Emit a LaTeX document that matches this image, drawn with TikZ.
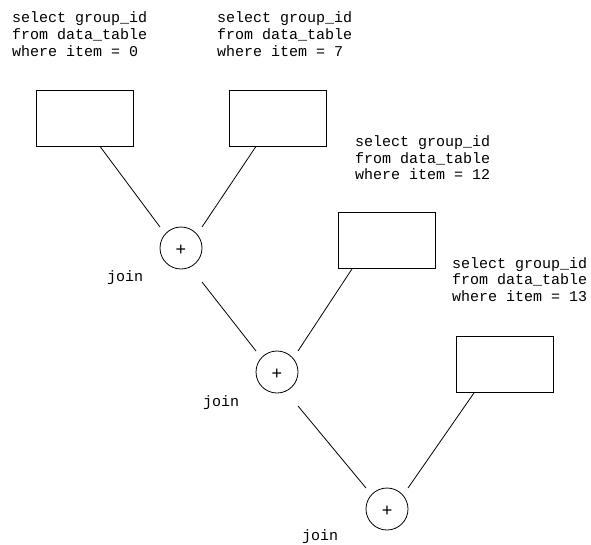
\documentclass[tikz,border=0pt]{standalone}
\usepackage{fontspec}
\setmonofont{Liberation Mono}
\newfontfamily\plusfont{Liberation Sans}
\begin{document}
\begin{tikzpicture}[x=1pt,y=-1pt,
  qbox/.style={draw,line width=0.8pt,minimum width=97pt,minimum height=56pt,inner sep=0pt},
  joincirc/.style={draw,line width=0.8pt,circle,minimum size=42pt,inner sep=0pt},
  sqltext/.style={anchor=base west,inner sep=0pt,align=left,font=\ttfamily\fontsize{15}{16.7}\selectfont},
  lbl/.style={anchor=base west,inner sep=0pt,font=\ttfamily\fontsize{15}{16.7}\selectfont},
  plussign/.style={font=\plusfont\fontsize{18}{18}\selectfont,inner sep=0pt},
  conn/.style={line width=0.8pt}]
\useasboundingbox (0,0) rectangle (591,544);
% boxes
\node[qbox] (b1) at (84.5,118) {};
\node[qbox] (b2) at (277.5,118) {};
\node[qbox] (b3) at (387,240.5) {};
\node[qbox] (b4) at (504.5,364.5) {};
% circles
\node[joincirc] (c1) at (181,248) {};
\node[joincirc] (c2) at (277,372) {};
\node[joincirc] (c3) at (387,509) {};
\node[plussign] (p1) at (181,250) {+};
\node[plussign] (p2) at (277,374) {+};
\node[plussign] (p3) at (387,511) {+};
% texts (base = last line)
\node[sqltext] (t1) at (12,56.1) {select group\_id\\from data\_table\\where item = 0};
\node[sqltext] (t2) at (217,56.1) {select group\_id\\from data\_table\\where item = 7};
\node[sqltext] (t3) at (355,179.9) {select group\_id\\from data\_table\\where item = 12};
\node[sqltext] (t4) at (452,301.4) {select group\_id\\from data\_table\\where item = 13};
\node[lbl] (j1) at (107,281) {join};
\node[lbl] (j2) at (203,406) {join};
\node[lbl] (j3) at (302,540) {join};
% connectors
\draw[conn] ([xshift=15.5pt]b1.south) -- ([shift={(-21,-21)}]c1.center);
\draw[conn] ([xshift=-21.5pt]b2.south) -- ([shift={(21,-21)}]c1.center);
\draw[conn] ([shift={(21,34)}]c1.center) -- ([shift={(-21,-21)}]c2.center);
\draw[conn] ([xshift=-35pt]b3.south) -- ([shift={(21,-21)}]c2.center);
\draw[conn] ([shift={(21,34)}]c2.center) -- ([shift={(-21,-21)}]c3.center);
\draw[conn] ([xshift=-30.5pt]b4.south) -- ([shift={(21,-21)}]c3.center);
\end{tikzpicture}
\end{document}
